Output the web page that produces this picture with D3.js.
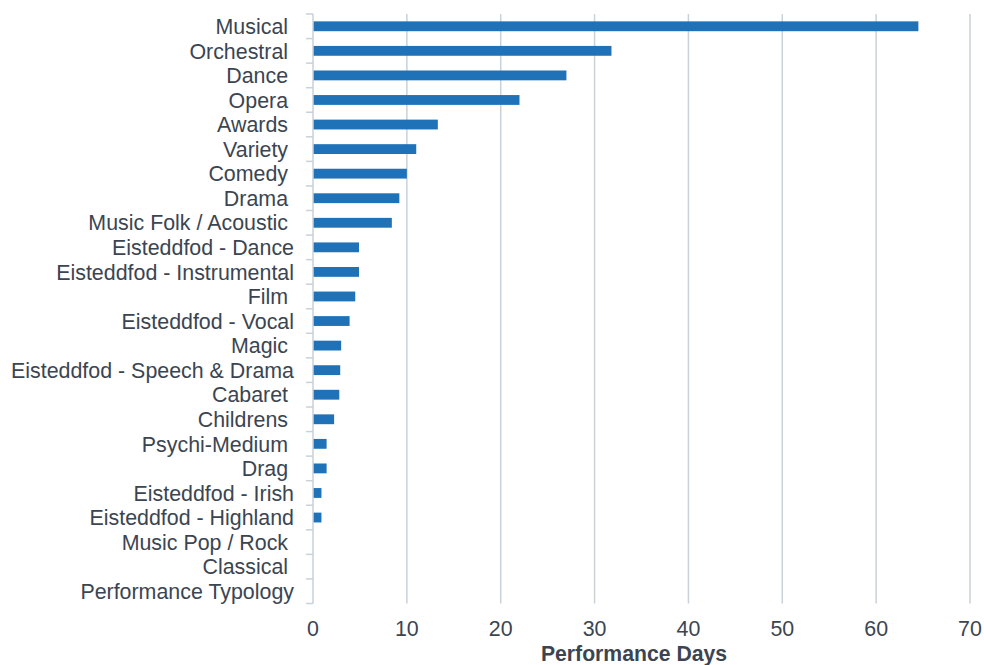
<!DOCTYPE html>
<html>
<head>
<meta charset="utf-8">
<script src="https://cdn.jsdelivr.net/npm/d3@7"></script>
<style>
  html, body { margin: 0; padding: 0; background: #fff; }
  svg { display: block; }
  text { font-family: "Liberation Sans", Arial, sans-serif; fill: #3b4551; }
</style>
</head>
<body>
<script>
const categories = [
  "Musical ", "Orchestral ", "Dance ", "Opera ", "Awards ", "Variety ", "Comedy ", "Drama ",
  "Music Folk / Acoustic ", "Eisteddfod - Dance", "Eisteddfod - Instrumental", "Film ",
  "Eisteddfod - Vocal", "Magic ", "Eisteddfod - Speech & Drama", "Cabaret ", "Childrens ",
  "Psychi-Medium ", "Drag ", "Eisteddfod - Irish", "Eisteddfod - Highland",
  "Music Pop / Rock ", "Classical ", "Performance Typology"
];
const values = [
  64.5, 31.8, 27, 22, 13.3, 11, 10, 9.2,
  8.4, 4.9, 4.9, 4.5,
  3.9, 3.0, 2.9, 2.8, 2.25,
  1.45, 1.45, 0.9, 0.9,
  0, 0, 0
];
const xTicks = [0, 10, 20, 30, 40, 50, 60, 70];
const xTitle = "Performance Days";

const W = 984, H = 665;
const m = { left: 313, right: 14, top: 14, bottom: 61.5 };
const svg = d3.select("body").append("svg").attr("width", W).attr("height", H);

const x = d3.scaleLinear().domain([0, 70]).range([m.left, W - m.right]);
const y = d3.scaleBand().domain(categories).range([m.top, H - m.bottom]).paddingInner(0.6).paddingOuter(0.3);

const gridColor = "#c9d1d9";

// vertical gridlines
svg.append("g").selectAll("line").data(xTicks.filter(d => d > 0)).join("line")
  .attr("x1", d => x(d)).attr("x2", d => x(d))
  .attr("y1", m.top).attr("y2", H - m.bottom)
  .attr("stroke", gridColor).attr("stroke-width", 1.5);

// bars
svg.append("g").selectAll("rect").data(categories).join("rect")
  .attr("x", x(0))
  .attr("y", (d) => y(d))
  .attr("width", (d, i) => x(values[i]) - x(0))
  .attr("height", y.bandwidth())
  .attr("fill", "#1f72b8");

// y axis line and band ticks
const step = y.step();
const boundaries = d3.range(categories.length + 1).map(i => m.top + i * step);
svg.append("line")
  .attr("x1", x(0)).attr("x2", x(0))
  .attr("y1", m.top).attr("y2", H - m.bottom)
  .attr("stroke", gridColor).attr("stroke-width", 1.5);
svg.append("g").selectAll("line").data(boundaries).join("line")
  .attr("x1", x(0) - 7).attr("x2", x(0))
  .attr("y1", d => d).attr("y2", d => d)
  .attr("stroke", gridColor).attr("stroke-width", 1.5);

// category labels
svg.append("g").selectAll("text").data(categories).join("text")
  .attr("x", 294)
  .attr("y", d => y(d) + y.bandwidth() / 2)
  .attr("dy", "0.36em")
  .attr("text-anchor", "end")
  .style("white-space", "pre")
  .style("font-size", "21.4px")
  .text(d => d);

// x tick labels
svg.append("g").selectAll("text").data(xTicks).join("text")
  .attr("x", d => x(d))
  .attr("y", 636)
  .attr("text-anchor", "middle")
  .style("font-size", "21.4px")
  .text(d => d);

// x axis title
svg.append("text")
  .attr("x", 634).attr("y", 661)
  .attr("text-anchor", "middle")
  .style("font-size", "21.2px").style("font-weight", "bold")
  .text(xTitle);
</script>
</body>
</html>
